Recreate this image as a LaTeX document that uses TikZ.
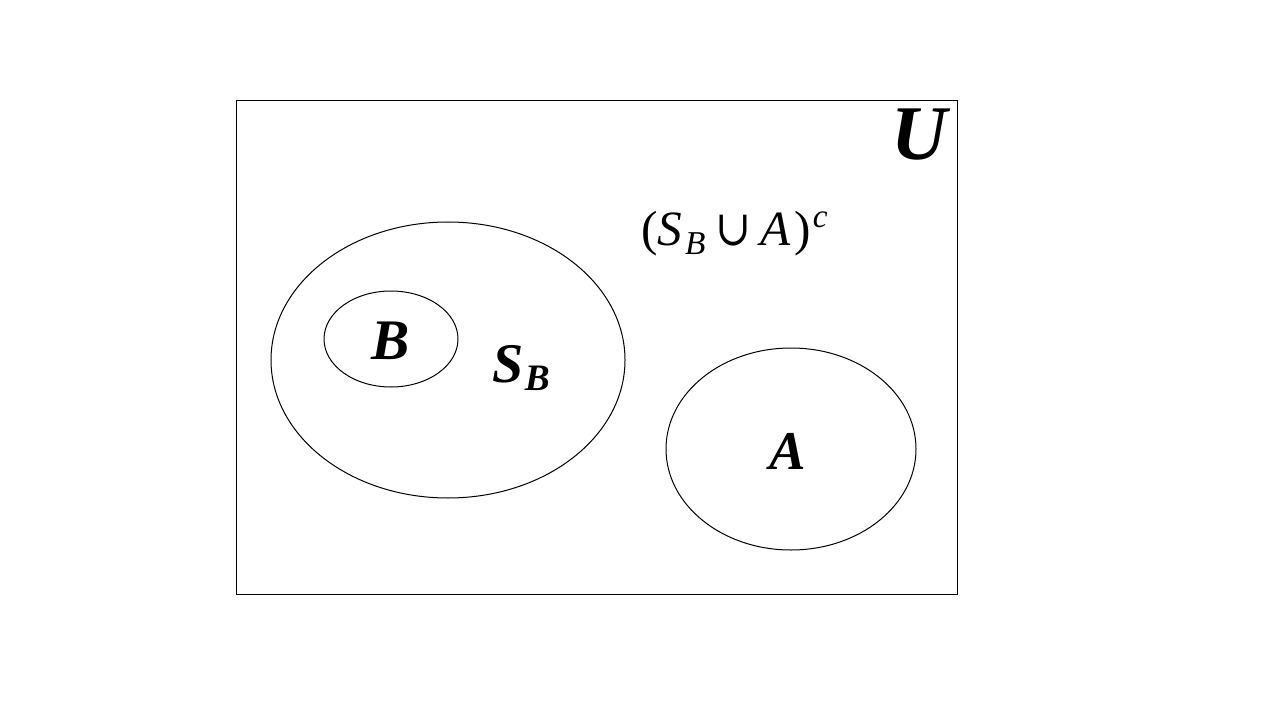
\documentclass[tikz,border=0pt]{standalone}
\usepackage{fontspec}
\setmainfont{Liberation Serif}
\newfontfamily\symfnt{DejaVu Serif}
\begin{document}
\begin{tikzpicture}[x=0.75pt,y=-0.75pt,
  setline/.style={draw=black,line width=0.75pt},
  setlabel/.style={font=\fontsize{43}{46}\selectfont\bfseries\itshape,inner sep=0pt,anchor=base}]
\useasboundingbox (0,0) rectangle (1280,720);
\draw[setline] (236.5,100.5) rectangle (957.5,594.5);
\node[inner sep=0pt,anchor=base,font=\fontsize{58}{62}\selectfont\bfseries\itshape] (U) at (919,160) {U};
\draw[setline] (448,360) ellipse [x radius=177, y radius=138];
\draw[setline] (391,339) ellipse [x radius=67, y radius=48];
\draw[setline] (791,449) ellipse [x radius=125, y radius=101];
\node[setlabel] (B) at (391,359) {B};
\node[setlabel,anchor=base west,font=\fontsize{42}{45}\selectfont\bfseries\itshape] (SB) at (492,382)
  {S\kern1pt\raisebox{-6pt}{\fontsize{28}{30}\selectfont B}};
\node[setlabel,font=\fontsize{41}{44}\selectfont\bfseries\itshape] (A) at (788,469) {A};
\node[inner sep=0pt,anchor=base west,font=\fontsize{37}{40}\selectfont] (C) at (641,246)
  {(\textit{S}\kern2pt\raisebox{-6.5pt}{\fontsize{25}{27}\selectfont\textit{B}}\kern7.5pt\scalebox{0.87}[1]{\symfnt ∪}\kern7pt\textit{A}\kern2.5pt)\kern1.5pt\raisebox{14pt}{\fontsize{25}{27}\selectfont\textit{c}}};
\end{tikzpicture}
\end{document}
